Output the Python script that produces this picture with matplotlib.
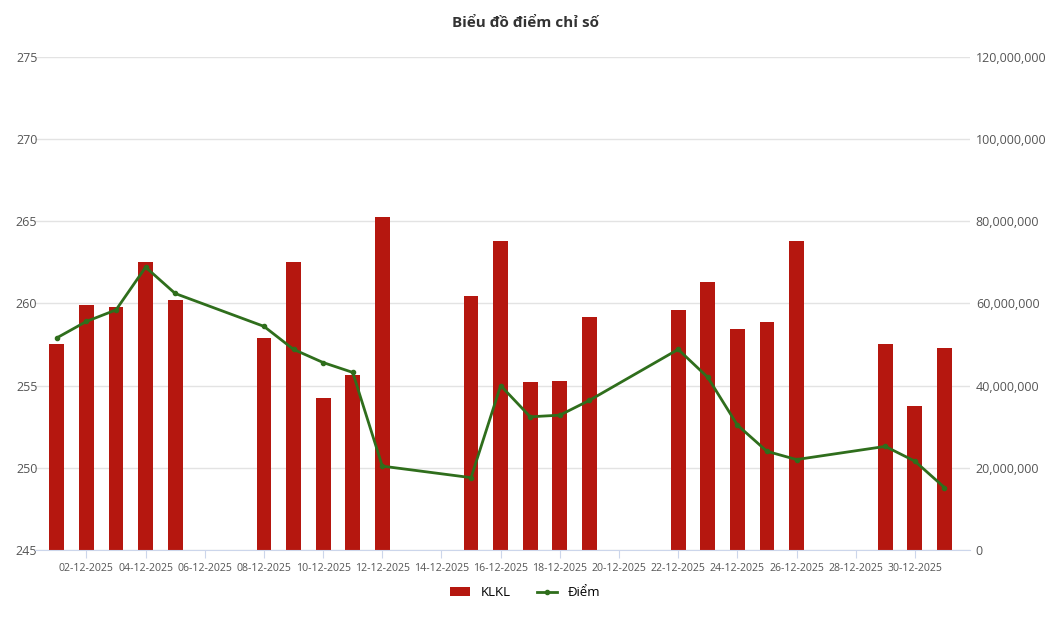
import matplotlib
matplotlib.use("Agg")
import matplotlib.pyplot as plt
from matplotlib.ticker import FuncFormatter

days = [1,2,3,4,5,8,9,10,11,12,15,16,17,18,19,22,23,24,25,26,29,30,31]
klkl = [50.1,59.6,59.2,70.1,60.9,51.6,70.1,37.0,42.6,81.1,61.8,75.2,40.9,41.1,56.7,
        58.4,65.2,53.8,55.5,75.2,50.1,35.1,49.2]  # millions
diem = [257.9,258.9,259.6,262.2,260.6,258.6,257.2,256.4,255.8,250.1,249.4,255.0,253.1,
        253.2,254.1,257.2,255.5,252.6,251.0,250.5,251.3,250.4,248.8]
tick_days = list(range(2, 31, 2))
tick_labels = [f"{d:02d}-12-2025" for d in tick_days]

plt.rcParams['font.family'] = ['Open Sans', 'DejaVu Sans']
fig = plt.figure(figsize=(10.5, 6.3), dpi=100)
ax = fig.add_axes([0.033, 0.127, 0.891, 0.783])
ax2 = ax.twinx()
ax.set_zorder(ax2.get_zorder() + 1)
ax.patch.set_visible(False)

ax2.bar(days, [v * 1e6 for v in klkl], width=0.5, color='#b5170f', label='KLKL', zorder=2)
ax.plot(days, diem, color='#2f6e1c', lw=2, marker='o', ms=3, label='Điểm')

ax.set_ylim(245, 275)
ax.set_yticks(range(245, 276, 5))
ax2.set_ylim(0, 120e6)
ax2.set_yticks(range(0, 120000001, 20000000))
ax2.yaxis.set_major_formatter(FuncFormatter(lambda v, p: f"{int(v):,}"))
ax.set_xlim(0.25, 31.87)
ax.set_xticks(tick_days)
ax.set_xticklabels(tick_labels, fontsize=7.6, color='#555555')
ax2.grid(axis='y', color='#e3e3e3', lw=1, zorder=0)
ax2.set_axisbelow(True)
for a in (ax, ax2):
    for s in a.spines.values():
        s.set_visible(False)
    a.tick_params(axis='y', length=0, labelsize=9, labelcolor='#555555')
ax.spines['bottom'].set_visible(True)
ax.spines['bottom'].set_color('#ccd6eb')
ax.tick_params(axis='x', length=6, color='#ccd6eb')
ax.tick_params(axis='y', pad=-2)
ax2.tick_params(axis='y', pad=4)

fig.suptitle('Biểu đồ điểm chỉ số', y=0.975, fontsize=11, fontweight='bold', color='#333333')
h1, l1 = ax2.get_legend_handles_labels()
h2, l2 = ax.get_legend_handles_labels()
fig.legend(h1 + h2, l1 + l2, loc='lower center', bbox_to_anchor=(0.5, 0.03), ncol=2,
           frameon=False, fontsize=9.5, handlelength=1.5)
fig.savefig('out.png')
